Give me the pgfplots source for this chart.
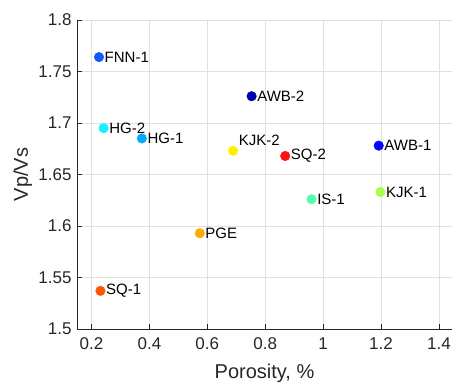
\documentclass[border=0pt]{standalone}
\usepackage{pgfplots}
\pgfplotsset{compat=1.18}
\usepackage{fontspec}
\setmainfont{Liberation Sans}
\usetikzlibrary{calc}
\definecolor{axc}{RGB}{38,38,38}
\definecolor{gridc}{RGB}{224,224,224}
\definecolor{cFNN}{RGB}{15,90,255}
\definecolor{cHGtwo}{RGB}{25,240,255}
\definecolor{cHGone}{RGB}{0,170,255}
\definecolor{cAWBtwo}{RGB}{0,0,170}
\definecolor{cKJKtwo}{RGB}{255,240,0}
\definecolor{cSQtwo}{RGB}{255,15,15}
\definecolor{cAWBone}{RGB}{5,5,255}
\definecolor{cKJKone}{RGB}{170,255,85}
\definecolor{cIS}{RGB}{85,255,170}
\definecolor{cPGE}{RGB}{255,170,0}
\definecolor{cSQone}{RGB}{255,85,0}
\pgfplotsset{
  pt/.style={only marks, mark=*, mark size=4.8pt,
    mark options={fill=#1, draw=#1, line width=0.4pt},
    every node near coord/.append style={anchor=west, inner sep=0pt, xshift=5.5pt,
      font=\fontsize{15}{17}\selectfont, text=black}},
}
\begin{document}
\begin{tikzpicture}
\begin{axis}[name=ax, scale only axis, width=375pt, height=309pt,
  xmin=0.15, xmax=1.445, ymin=1.5, ymax=1.8,
  axis x line*=bottom, axis y line*=left,
  xtick={0.2,0.4,0.6,0.8,1,1.2,1.4},
  ytick={1.5,1.55,1.6,1.65,1.7,1.75,1.8},
  grid=major, major grid style={gridc, line width=0.8pt},
  axis line style={axc, line width=0.8pt},
  tick style={axc, line width=0.8pt}, major tick length=5pt, tick align=inside,
  /pgf/number format/assume math mode=true,
  ticklabel style={font=\fontsize{17}{20}\selectfont, text=axc},
  xticklabel style={yshift=-5pt},
  yticklabel style={xshift=-2pt},
  every axis x label/.style={at={(axis description cs:0.5,-0.15858)}, anchor=base, font=\fontsize{20}{24}\selectfont, text=axc},
  every axis y label/.style={at={(axis description cs:-0.13067,0.5)}, rotate=90, anchor=base, font=\fontsize{20}{24}\selectfont, text=axc},
  xlabel={Porosity, \%}, ylabel={Vp/Vs},
  clip=false,
]
\addplot[pt=cFNN, nodes near coords={FNN-1}] coordinates {(0.226,1.764)};
\addplot[pt=cHGtwo, nodes near coords={HG-2}] coordinates {(0.242,1.695)};
\addplot[pt=cHGone, nodes near coords={HG-1}] coordinates {(0.374,1.685)};
\addplot[pt=cAWBtwo, nodes near coords={AWB-2}] coordinates {(0.753,1.726)};
\addplot[pt=cKJKtwo, nodes near coords={KJK-2}, every node near coord/.append style={yshift=10pt}] coordinates {(0.689,1.673)};
\addplot[pt=cSQtwo, nodes near coords={SQ-2}] coordinates {(0.869,1.668)};
\addplot[pt=cAWBone, nodes near coords={AWB-1}] coordinates {(1.192,1.678)};
\addplot[pt=cKJKone, nodes near coords={KJK-1}] coordinates {(1.198,1.633)};
\addplot[pt=cIS, nodes near coords={IS-1}] coordinates {(0.960,1.626)};
\addplot[pt=cPGE, nodes near coords={PGE}] coordinates {(0.574,1.593)};
\addplot[pt=cSQone, nodes near coords={SQ-1}] coordinates {(0.231,1.537)};
\end{axis}
\pgfresetboundingbox
\path[use as bounding box] ($(ax.south west)+(-77pt,-56pt)$) rectangle ($(ax.north east)+(0pt,20pt)$);
\end{tikzpicture}
\end{document}
